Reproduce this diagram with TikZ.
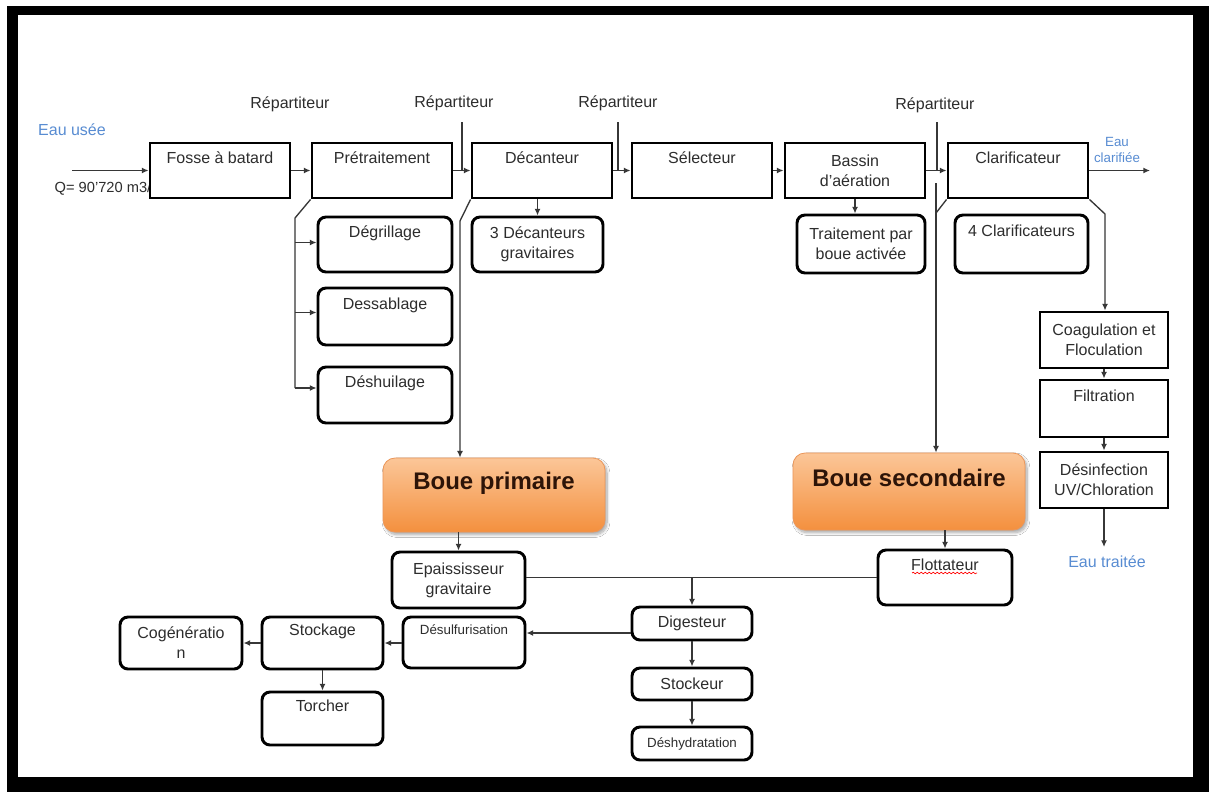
\documentclass[tikz,border=0pt]{standalone}
\usepackage{fontspec}
\setmainfont{Liberation Sans}
\usetikzlibrary{arrows.meta}
\usetikzlibrary{calc}
\usetikzlibrary{shadows.blur}
\usetikzlibrary{decorations.pathmorphing}

\begin{document}
\begin{tikzpicture}[x=0.75pt,y=0.75pt,yscale=-1,xscale=1,
  bloc/.style={draw, line width=2.2pt, fill=white, inner sep=1pt, align=center,
    text={rgb, 255:red, 45; green, 45; blue, 45 }, font=\fontsize{12}{15}\selectfont,
    minimum width=105pt, minimum height=41.25pt},
  arrondi/.style={bloc, rounded corners=6pt},
  boue/.style={draw={rgb, 255:red, 236; green, 150; blue, 88 }, line width=0.6pt, rounded corners=9pt,
    top color={rgb, 255:red, 251; green, 198; blue, 152 }, bottom color={rgb, 255:red, 244; green, 144; blue, 62 },
    blur shadow={shadow xshift=1.5pt, shadow yshift=-2pt, shadow blur steps=8, shadow opacity=35}, align=center,
    font=\fontsize{18}{16}\selectfont\bfseries, text={rgb, 255:red, 45; green, 20; blue, 8 }},
  lien/.style={draw={rgb, 255:red, 55; green, 55; blue, 55 }, line width=1pt},
  fleche/.style={lien, -{Latex[length=5pt,width=4.5pt]}},
  etiq/.style={font=\fontsize{12}{15}\selectfont, text={rgb, 255:red, 45; green, 45; blue, 45 }},
  bleu/.style={font=\fontsize{12}{14}\selectfont, text={rgb, 255:red, 88; green, 140; blue, 210 }, align=center}
]
\useasboundingbox (0,0) rectangle (1209,792);

%Shape: Frame
\fill [white] (0,0) rectangle (1209,792);
\fill [black] (7,6) rectangle (1209,792);
\fill [white] (18,15) rectangle (1193,777);

% Text Node
\node [etiq, anchor=west, font=\fontsize{11}{13}\selectfont] (debit) at (50,189) {Q= 90'720 m3/};
% Text Node
\node [bleu] (eauusee) at (72,130) {Eau usée};
% Text Node
\node [bleu, font=\fontsize{10}{12}\selectfont] (eauclar) at (1117,150) {Eau\\clarifiée};
% Text Node
\node [bleu] (eautr) at (1107,562) {Eau traitée};
% Text Node
\node [etiq] (rep1) at (290,104) {Répartiteur};
\node [etiq] (rep2) at (454,103) {Répartiteur};
\node [etiq] (rep3) at (618,103) {Répartiteur};
\node [etiq] (rep4) at (935,105) {Répartiteur};

%Shape: Rectangle (file eau)
\node [bloc] (fosse) at (220,170.5) {Fosse à batard\\\strut};
\node [bloc] (pretrait) at (382,170.5) {Prétraitement\\\strut};
\node [bloc] (decant) at (542,170.5) {Décanteur\\\strut};
\node [bloc] (select) at (702,170.5) {Sélecteur\\\strut};
\node [bloc] (bassin) at (855,170.5) {Bassin\\d'aération};
\node [bloc] (clarif) at (1018,170.5) {Clarificateur\\\strut};

%Shape: Rounded Rect (details)
\node [arrondi, minimum width=100.5pt] (degril) at (385,244.5) {Dégrillage\\\strut};
\node [arrondi, minimum width=100.5pt, minimum height=42.75pt] (dessab) at (385,316.5) {Dessablage\\\strut};
\node [arrondi, minimum width=100.5pt, minimum height=42pt] (deshuil) at (385,395) {Déshuilage\\\strut};
\node [arrondi, minimum width=98.25pt] (dec3) at (537.5,244.5) {3 Décanteurs\\gravitaires};
\node [arrondi, minimum width=96pt, minimum height=43.5pt] (traite) at (861,244) {Traitement par\\boue activée};
\node [arrondi, minimum width=99.75pt, minimum height=43.5pt] (clar4) at (1021.5,244) {4 Clarificateurs\\\strut};

%Shape: Rectangle (tertiaire)
\node [bloc, minimum width=96pt, minimum height=42pt] (coag) at (1104,340) {Coagulation et\\Floculation};
\node [bloc, minimum width=96pt, minimum height=42.75pt] (filtr) at (1104,408.5) {Filtration\\\strut};
\node [bloc, minimum width=96pt, minimum height=42pt] (desinf) at (1104,480) {Désinfection\\UV/Chloration};

%Shape: Rounded Rect (boues)
\node [boue, minimum width=166.5pt, minimum height=55.5pt] (bprim) at (494,495) {Boue primaire\\\strut};
\node [boue, minimum width=174pt, minimum height=57.75pt] (bsec) at (909,491.5) {Boue secondaire\\\strut};

%Shape: Rounded Rect (file boue)
\node [arrondi, minimum width=99.75pt, minimum height=42pt] (epais) at (458.5,580) {Epaississeur\\gravitaire};
\node [arrondi, minimum width=100.5pt, minimum height=41.25pt] (flott) at (945,577.5) {Flottateur\\\strut};
\node [arrondi, minimum width=90pt, minimum height=24.75pt] (digest) at (692,623.5) {Digesteur};
\node [arrondi, minimum width=90pt, minimum height=24pt] (stockeur) at (692,684) {Stockeur};
\node [arrondi, minimum width=90pt, minimum height=24.75pt, font=\fontsize{10}{12}\selectfont] (deshyd) at (692,743.5) {Déshydratation};
\node [arrondi, minimum width=91.5pt, minimum height=38.25pt, font=\fontsize{10}{15}\selectfont] (desulf) at (464,642.5) {Désulfurisation\\\strut};
\node [arrondi, minimum width=90.75pt, minimum height=39pt] (stockage) at (322.5,643) {Stockage\\\strut};
\node [arrondi, minimum width=91.5pt, minimum height=39pt] (cogen) at (181,643) {Cogénératio\\n};
\node [arrondi, minimum width=90.75pt, minimum height=39.75pt] (torcher) at (322.5,718.5) {Torcher\\\strut};

%Straight Lines (file eau)
\coordinate (entree) at (72,170.5);
\coordinate (sortie) at (1150,170.5);
\draw [fleche] (entree) -- (fosse.west);
\draw [fleche] (fosse.east) -- (pretrait.west);
\draw [fleche] (pretrait.east) -- (decant.west);
\draw [fleche] (decant.east) -- (select.west);
\draw [fleche] (select.east) -- (bassin.west);
\draw [fleche] (bassin.east) -- (clarif.west);
\draw [fleche] (clarif.east) -- (sortie);

%Straight Lines (repartiteurs)
\coordinate (r2) at (462,122);
\coordinate (r3) at (618,122);
\coordinate (r4) at (937,122);
\draw [lien] (r2) -- (r2 |- pretrait.east);
\draw [lien] (r3) -- (r3 |- decant.east);
\draw [lien] (r4) -- (r4 |- bassin.east);

%Straight Lines (pretraitement)
\coordinate (kpre) at (295,218);
\draw [lien] (pretrait.south west) -- (kpre) -- ($(kpre |- deshuil.west)+(0,-7)$);
\draw [fleche] ($(kpre |- degril.west)+(0,-2)$) -- ($(degril.west)+(0,-2)$);
\draw [fleche] ($(kpre |- dessab.west)+(0,-4)$) -- ($(dessab.west)+(0,-4)$);
\draw [fleche] ($(kpre |- deshuil.west)+(0,-7)$) -- ($(deshuil.west)+(0,-7)$);

%Straight Lines (details)
\draw [fleche] (decant.south -| dec3.north) -- (dec3.north);
\draw [fleche] (bassin.south) -- (bassin.south |- traite.north);

%Straight Lines (boues)
\coordinate (kdec) at (460,221);
\draw [fleche] (decant.south west) -- (kdec) -- (kdec |- bprim.north);
\coordinate (kcla) at (936,213);
\coordinate (kcla0) at (936,183);
\draw [lien] (clarif.south west) -- (kcla);
\draw [fleche] (kcla0) -- (kcla0 |- bsec.north);

%Straight Lines (tertiaire)
\coordinate (ktert) at (1105,214);
\coordinate (sortie2) at (1104,547);
\draw [fleche] (clarif.south east) -- (ktert) -- (ktert |- coag.north);
\draw [fleche] (coag) -- (filtr);
\draw [fleche] (filtr) -- (desinf);
\draw [fleche] (desinf) -- (sortie2);

%Straight Lines (file boue)
\draw [fleche] (bprim.south -| epais.north) -- (epais.north);
\draw [fleche] (bsec.south -| flott.north) -- (flott.north);
\draw [lien] (epais.east |- flott.west) -- (flott.west);
\draw [fleche] (digest.north |- flott.west) -- (digest.north);
\draw [fleche] ($(digest.west)+(0,9.5)$) -- ($(desulf.east |- digest.west)+(0,9.5)$);
\draw [fleche] (desulf.west |- stockage.east) -- (stockage.east);
\draw [fleche] (stockage.west) -- (cogen.east);
\draw [fleche] (stockage) -- (torcher);
\draw [fleche] (digest) -- (stockeur);
\draw [fleche] (stockeur) -- (deshyd);

%Curve Lines (correcteur)
\draw [red, line width=0.5pt, decorate, decoration={snake, amplitude=0.6pt, segment length=3pt}] ($(flott.center)+(-33,-4.5)$) -- ($(flott.center)+(32,-4.5)$);

\end{tikzpicture}
\end{document}
